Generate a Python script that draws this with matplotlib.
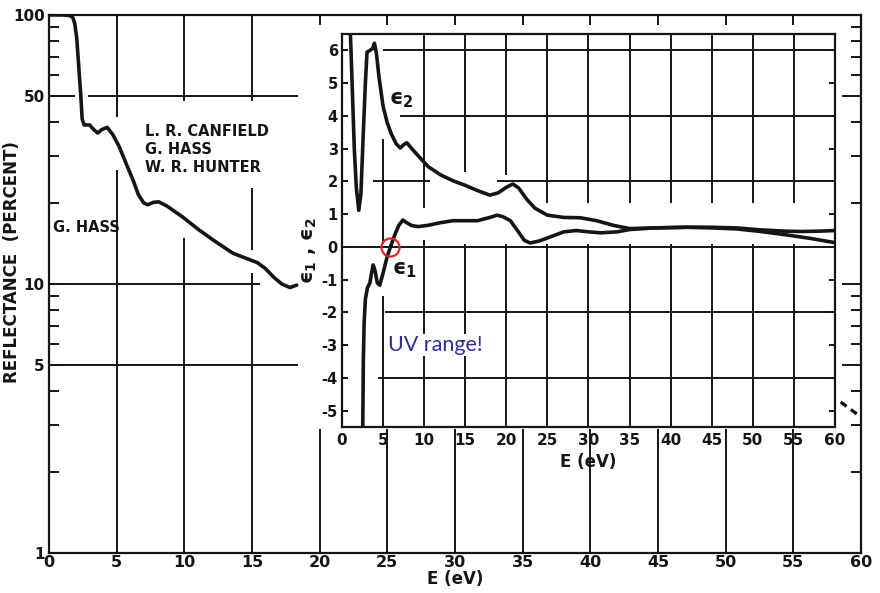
import matplotlib
matplotlib.use("Agg")
import matplotlib.pyplot as plt
import numpy as np

plt.rcParams['font.family'] = ['DejaVu Sans']
plt.rcParams['font.weight'] = 'bold'
plt.rcParams['axes.labelweight'] = 'bold'
plt.rcParams['mathtext.fontset'] = 'dejavusans'
plt.rcParams['mathtext.default'] = 'bf'

ink = '#151515'

# reflectance (percent) vs E (eV), main log panel
refl_e = [0, 0.5, 1.0, 1.5, 1.75, 1.9, 2.05, 2.2, 2.35, 2.45, 2.6, 3.0, 3.3, 3.6, 3.9,
          4.3, 4.7, 5.2, 5.7, 6.2, 6.6, 7.0, 7.3, 7.7, 8.1, 8.7, 9.9, 11.0, 12.1,
          13.6, 15.4, 16.0, 16.6, 17.2, 17.8, 18.3]
refl_r = [100, 100, 100, 99.5, 98, 93, 82, 64, 50, 41, 39, 39, 37.5, 36.4, 37.5,
          38.2, 36, 32.3, 28, 24.4, 21.5, 20, 19.7, 20.1, 20.2, 19.5, 17.7, 16.0, 14.6,
          13.0, 12.0, 11.4, 10.6, 10.0, 9.7, 9.9]
# dashed bit at the far right
tail_e = [58.5, 60.0]
tail_r = [3.64, 3.2]

# dielectric function, inset
eps2_e = [0.95, 1.1, 1.3, 1.5, 1.75, 2.05, 2.3, 2.6, 2.85, 3.05, 3.4, 3.7, 3.95, 4.2,
          4.5, 5.0, 5.5, 6.0, 6.6, 7.1, 7.5, 7.9, 8.5, 9.5, 10.5, 12.0, 13.5, 15.0,
          16.5, 18.0, 19.0, 20.0, 20.8, 21.5, 22.5, 23.5, 25.0, 27.0, 29.0, 31.0,
          33.0, 35.0, 38.0, 42.0, 45.0, 48.0, 51.0, 54.0, 57.0, 60.0]
eps2_v = [7.0, 6.0, 4.5, 3.0, 1.8, 1.12, 1.6, 3.5, 5.0, 5.95, 6.0, 6.05, 6.22, 5.9,
          5.2, 4.3, 3.8, 3.45, 3.15, 3.02, 3.12, 3.18, 3.0, 2.72, 2.45, 2.2, 2.02, 1.88,
          1.72, 1.58, 1.65, 1.82, 1.92, 1.8, 1.45, 1.18, 0.97, 0.9, 0.89, 0.8,
          0.66, 0.56, 0.58, 0.6, 0.58, 0.55, 0.47, 0.37, 0.26, 0.13]
eps1_e = [2.5, 2.55, 2.6, 2.7, 2.85, 3.1, 3.4, 3.6, 3.8, 4.05, 4.3, 4.6, 5.0, 5.5,
          5.9, 6.4, 6.9, 7.4, 7.8, 8.5, 9.3, 10.5, 12.0, 13.5, 15.0, 16.5, 18.0,
          18.9, 19.6, 20.5, 21.5, 22.2, 22.9, 24.0, 25.4, 27.0, 28.5, 30.0, 31.5,
          33.5, 35.0, 38.0, 42.0, 45.0, 48.0, 51.0, 54.0, 56.0, 58.0, 60.0]
eps1_v = [-6.0, -5.0, -3.5, -2.3, -1.6, -1.25, -1.1, -0.8, -0.55, -0.75, -1.1, -1.17,
          -0.8, -0.3, 0.0, 0.35, 0.65, 0.82, 0.75, 0.65, 0.62, 0.66, 0.74, 0.8, 0.8,
          0.8, 0.9, 0.97, 0.92, 0.8, 0.45, 0.2, 0.12, 0.18, 0.31, 0.46, 0.5, 0.46,
          0.43, 0.46, 0.53, 0.58, 0.6, 0.6, 0.58, 0.52, 0.48, 0.47, 0.48, 0.5]

e_ticks = list(range(0, 61, 5))
r_major = [1, 5, 10, 50, 100]
r_minor = [2, 3, 4, 6, 7, 8, 9, 20, 30, 40, 60, 70, 80, 90]
eps_ticks = list(range(-5, 7))

fig = plt.figure(figsize=(8.8, 5.93), dpi=100)

# ---- main reflectance panel
ax = fig.add_axes([0.0557, 0.0675, 0.9227, 0.9073])
ax.set_yscale('log')
ax.set_xlim(0, 60)
ax.set_ylim(1, 100)
for s in ax.spines.values():
    s.set_linewidth(1.6)
    s.set_color(ink)

ax.set_xticks(e_ticks)
ax.set_xticklabels([str(t) for t in e_ticks], fontsize=11.5)
ax.tick_params(axis='x', length=0, pad=1.5, colors=ink)
ax.set_yticks(r_major)
ax.set_yticklabels([str(t) for t in r_major], fontsize=11)
ax.set_yticks(r_minor, minor=True)
ax.yaxis.set_minor_formatter(matplotlib.ticker.NullFormatter())
ax.tick_params(axis='y', which='major', direction='in', left=True, right=True,
               length=14, width=1.4, pad=3, colors=ink)
ax.tick_params(axis='y', which='minor', direction='in', left=True, right=True,
               length=7, width=1.4, colors=ink)

grid_kw = dict(color=ink, lw=1.4, zorder=1)
# horizontal grid pieces
ax.hlines(50, 0, 1.9, **grid_kw)
ax.hlines(50, 2.9, 18.4, **grid_kw)
ax.hlines(10, 0, 15.6, **grid_kw)
ax.hlines(5, 0, 18.4, **grid_kw)
# vertical grid pieces (gaps where the curve and the text sit)
ax.vlines(5, 1, 26.5, **grid_kw)
ax.vlines(5, 41.8, 100, **grid_kw)
ax.vlines(10, 1, 14.8, **grid_kw)
ax.vlines(10, 48, 100, **grid_kw)
ax.vlines(15, 1, 11, **grid_kw)
ax.vlines(15, 13.4, 22.7, **grid_kw)
ax.vlines(15, 48, 100, **grid_kw)
for x in range(20, 60, 5):
    ax.vlines(x, 1, 2.9, **grid_kw)
    ax.vlines(x, 91.5, 100, **grid_kw)

ax.plot(refl_e, refl_r, color=ink, lw=2.6, zorder=3, solid_capstyle='round')
ax.plot(tail_e, tail_r, color=ink, lw=2.4, ls=(0, (2.2, 1.6)), zorder=3, clip_on=False)

ax.text(7.1, 31.5, "L. R. CANFIELD\nG. HASS\nW. R. HUNTER", fontsize=10.5,
        va='center', ha='left', linespacing=1.25, color=ink, zorder=4)
ax.text(0.3, 16.2, "G. HASS", fontsize=10.5, va='center', ha='left', color=ink, zorder=4)
ax.text(-0.046, 0.541, "REFLECTANCE  (PERCENT)", transform=ax.transAxes, rotation=90,
        fontsize=12, va='center', ha='center', color=ink)
ax.set_xlabel("E (eV)", fontsize=12, labelpad=0, color=ink)

# ---- inset: dielectric function
ax2 = fig.add_axes([0.3886, 0.2799, 0.5602, 0.6627])
ax2.set_facecolor('white')
ax2.set_xlim(0, 60)
ax2.set_ylim(-5.5, 6.5)
for s in ax2.spines.values():
    s.set_linewidth(1.6)
    s.set_color(ink)
ax2.set_xticks(e_ticks)
ax2.set_xticklabels([str(t) for t in e_ticks], fontsize=11)
ax2.tick_params(axis='x', length=0, pad=4, colors=ink)
ax2.set_yticks(eps_ticks)
ax2.set_yticklabels([str(t) for t in eps_ticks], fontsize=10.5)
ax2.tick_params(axis='y', direction='in', left=True, right=True, length=4,
                width=1.4, pad=3, colors=ink)

ax2.hlines(6, 5, 60, **grid_kw)
ax2.hlines(4, 7.1, 60, **grid_kw)
ax2.hlines(2, 3.8, 10.7, **grid_kw)
ax2.hlines(2, 18.9, 60, **grid_kw)
ax2.hlines(0, 0, 60, **grid_kw)
ax2.hlines(-2, 5.2, 60, **grid_kw)
ax2.hlines(-4, 4.4, 60, **grid_kw)
ax2.vlines(5, 0.1, 3.3, **grid_kw)
ax2.vlines(5, -5.5, -1.5, **grid_kw)
ax2.vlines(10, 1.2, 6.5, **grid_kw)
ax2.vlines(10, -5.5, 0.2, **grid_kw)
for x in range(15, 60, 5):
    top_end = {15: 2.3, 20: 2.2}.get(x, 1.35)
    ax2.vlines(x, top_end, 6.5, **grid_kw)
    ax2.vlines(x, -5.5, 0.1, **grid_kw)

ax2.plot(eps2_e, eps2_v, color=ink, lw=2.6, zorder=3)
ax2.plot(eps1_e, eps1_v, color=ink, lw=2.6, zorder=3)

ax2.text(7.2, 4.5, "ϵ$_2$", fontsize=15, ha='center', va='center', color=ink, zorder=4)
ax2.text(7.6, -0.7, "ϵ$_1$", fontsize=15, ha='center', va='center', color=ink, zorder=4)
ax2.plot(5.9, 0, 'o', ms=13, mfc='none', mec='#e3232b', mew=1.6, zorder=5)
ax2.text(5.6, -3.0, "UV range!", fontsize=15.5, fontweight='normal', family='Lato',
         color='#2e3192', ha='left', va='center', zorder=4,
         bbox=dict(facecolor='white', edgecolor='none', pad=1))
ax2.text(-0.066, 0.45, "ϵ$_1$ , ϵ$_2$", transform=ax2.transAxes,
         rotation=90, fontsize=14, ha='center', va='center', color=ink)
ax2.set_xlabel("E (eV)", fontsize=12, labelpad=4, color=ink)

plt.savefig("out.png", dpi=100, facecolor='white')
